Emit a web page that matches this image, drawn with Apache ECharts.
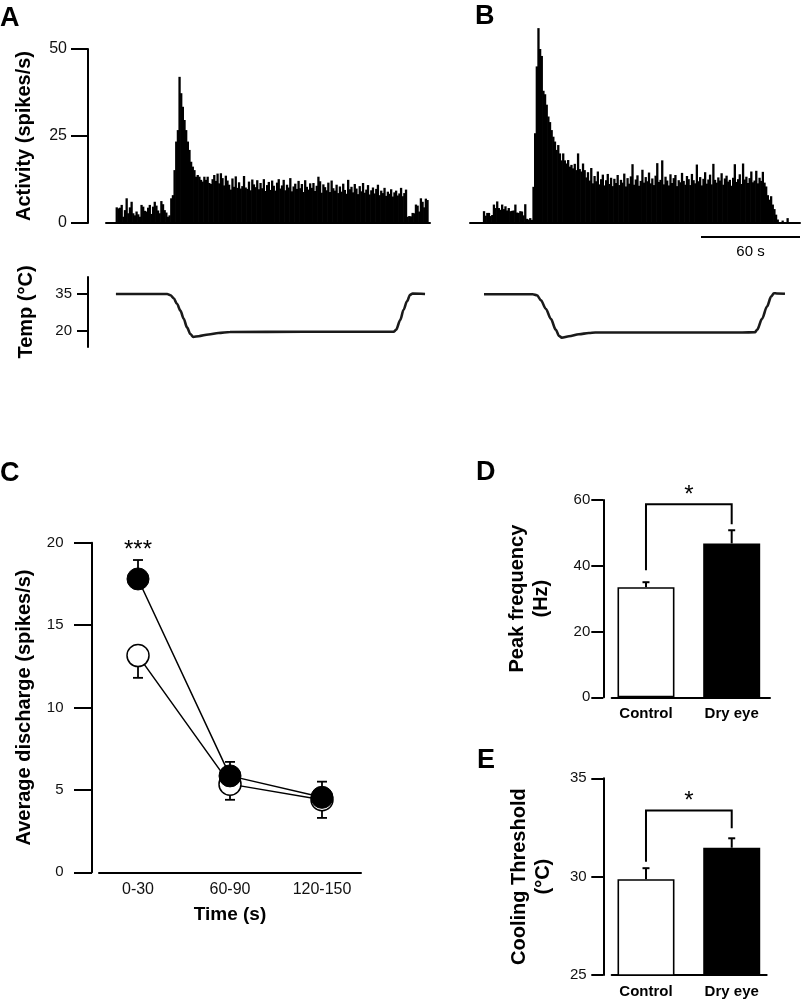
<!DOCTYPE html>
<html><head><meta charset="utf-8">
<script src="https://cdn.jsdelivr.net/npm/echarts@6/dist/echarts.min.js"></script>
<style>html,body{margin:0;padding:0;background:#fff}#c{width:801px;height:1003px}</style>
</head><body><div id="c"></div>
<script>
// ---------- DATA ----------
// Panel A: activity histogram, 1-s bins (spikes/s)
const histA = [0,0,0,0,0,0,
 4.5,4.2,4.4,5.2,1.8,3.7,7.1,2.8,4.5,6.1,2.8,2.2,3.3,2.5,1.8,5.2,4.7,3.5,3.3,4.4,5.2,2.6,4.7,6.1,5.0,3.6,2.8,6.3,5.4,3.7,3.0,1.8,2.2,7.1,8.0,
 15.2,23.4,26.7,42.0,37.3,33.4,29.6,26.7,23.4,21.0,17.6,16.2,15.2,13.3,13.8,13.3,12.4,11.9,13.3,12.4,13.3,11.5,
 11.2,12.6,13.8,12.1,14.2,11.4,14.3,12.9,10.8,13.6,12.2,11.0,9.6,12.8,10.4,13.4,10.1,11.7,9.9,10.6,
 13.5,10.2,9.8,11.9,9.4,12.5,11.1,10.3,12.3,9.7,11.5,10.0,12.6,9.2,10.9,11.8,9.5,12.2,10.7,9.3,
 11.6,12.6,9.9,10.8,12.4,9.4,11.0,10.2,12.9,9.1,10.5,11.3,9.8,12.1,10.0,11.2,8.9,12.3,10.4,9.6,
 11.4,10.1,11.5,9.2,10.7,13.3,12.0,8.7,11.1,10.3,9.4,11.6,8.9,12.2,10.0,9.3,11.0,8.6,10.5,9.0,
 11.3,9.5,8.4,12.4,9.7,10.4,8.8,11.2,9.9,8.3,10.6,9.1,11.5,8.7,9.6,10.9,8.2,9.4,10.2,8.5,
 9.8,11.0,8.0,9.3,8.6,10.1,7.8,9.0,8.4,9.7,7.6,8.8,9.3,7.9,8.5,10.1,7.7,8.6,9.6,
 1.8,2.0,1.9,2.9,2.8,5.3,5.0,3.3,7.1,6.1,4.5,7.0,6.6,
 0];
// Panel B: activity histogram, 1-s bins (spikes/s)
const histB = [0,0,0,0,0,0,0,0,
 3.4,2.1,2.9,2.9,2.0,2.3,5.3,4.3,6.2,4.3,3.8,5.3,4.0,4.8,3.6,4.3,3.4,3.5,3.6,5.3,3.0,2.9,3.4,3.3,2.2,5.4,1.2,1.0,1.4,0.9,
 10.4,25.8,45.0,56.0,50.0,48.0,38.0,37.0,34.0,30.6,29.0,26.7,24.8,23.4,21.0,22.4,20.0,18.0,20.0,18.0,17.1,18.1,16.2,16.7,15.7,17.0,15.2,20.0,15.5,14.8,17.1,
 15.2,13.1,14.6,12.2,15.8,11.4,13.5,12.0,14.8,11.1,12.6,13.9,10.8,12.3,14.1,11.2,13.0,10.6,12.7,11.5,
 13.8,10.9,12.4,11.6,14.2,10.5,12.9,11.3,13.4,16.9,11.0,12.5,13.7,10.7,12.1,15.3,11.6,13.2,12.0,14.5,
 11.4,12.8,10.9,13.6,17.2,11.8,12.4,18.0,11.1,13.3,12.2,10.8,14.0,11.5,12.9,13.8,10.6,12.3,11.7,14.4,
 12.1,11.0,13.5,12.6,10.9,14.1,12.3,11.4,16.8,12.0,13.2,10.8,12.7,14.6,11.3,12.5,13.9,11.1,17.0,12.4,
 11.6,13.1,12.2,14.3,11.0,12.8,13.6,11.9,12.4,10.7,13.0,16.9,11.8,12.6,14.0,11.2,17.1,12.5,13.3,11.5,
 12.9,14.8,11.7,12.2,15.0,11.4,13.0,12.1,14.7,11.6,
 10.5,8.0,6.7,7.7,5.3,4.0,2.4,1.0,0,0,0.7,0,0,1.4,0,0,0,0,0,0,0];
// Temperature traces [time s, °C]
const tempA = [[6,35.1],[37,35.1],[39,34.6],[41,33.3],[43,31],[45,28.3],[47,25],[49,21.5],[51,18.8],[52.8,17.6],[56,17.9],[62,18.6],[68,19.2],[75,19.6],[120,19.7],[174,19.7],[175.5,20.5],[178,24.5],[180,28.6],[182,32],[184,34.8],[185.5,35.3],[193,35.1]];
const tempB = [[8.5,35],[38,35],[40.6,34.6],[43,32.5],[46,29],[49,25],[52,20.5],[54,18],[55.6,17.3],[60,17.9],[66,18.7],[72,19.2],[76,19.4],[120,19.4],[165,19.4],[172.7,19.5],[174,20.5],[177,25],[180,30],[182.5,34],[184.2,35.4],[186,35.3],[190.9,35.2]];
const tempTicks = [20, 35];
const scaleBarSeconds = 60;
// Panel C
const timeCats = ['0-30', '60-90', '120-150'];
const controlMean = [13.15, 5.35, 4.4];
const controlErr = [1.35, 0.95, 1.1];
const dryMean = [17.8, 5.85, 4.55];
const dryErr = [1.15, 0.85, 0.95];
const sigC = ['***', '', ''];
// Panels D, E
const groupCats = ['Control', 'Dry eye'];
const peakMean = [33.5, 46.8];
const peakErr = [1.5, 4.0];
const peakBracket = [38.6, 58.7, 52.6];
const thrMean = [29.87, 31.47];
const thrErr = [0.56, 0.48];
const thrBracket = [30.76, 33.36, 32.46];

// ---------- CHART ----------
const FF = '"Liberation Sans", Arial, Helvetica, sans-serif';
const chart = echarts.init(document.getElementById('c'), null, {renderer: 'canvas'});
const AX = {color: '#000', width: 2};
const XLINE = {onZero: false, lineStyle: AX};
function yAx(o) {
  return Object.assign({
    type: 'value', splitLine: {show: false},
    axisLine: {show: true, onZero: false, lineStyle: AX},
    axisTick: {show: true, length: 12, lineStyle: AX},
    nameLocation: 'middle', nameRotate: 90,
    nameTextStyle: {fontFamily: FF, fontWeight: 'bold', fontSize: 20, color: '#000', lineHeight: 24}
  }, o);
}
function lab(size, margin, extra) {
  return Object.assign({fontFamily: FF, fontSize: size, color: '#111', margin: margin}, extra || {});
}
function errBar(dir, capW, lw) {
  return function (params, api) {
    const x = api.value(0), m = api.value(1), e = api.value(2);
    const p0 = api.coord([x, m]), p1 = api.coord([x, m + dir * e]);
    const ch = [
      {type: 'line', shape: {x1: p0[0], y1: p0[1], x2: p1[0], y2: p1[1]}, style: {stroke: '#000', lineWidth: lw}},
      {type: 'line', shape: {x1: p1[0] - capW / 2, y1: p1[1], x2: p1[0] + capW / 2, y2: p1[1]}, style: {stroke: '#000', lineWidth: lw}}
    ];
    const s = params.seriesName === 'dryErr' ? sigC[params.dataIndex] : '';
    if (s) ch.push({type: 'text', x: p1[0], y: p1[1] - 10, style: {text: s, font: '24px ' + FF, fill: '#000', align: 'center', verticalAlign: 'middle'}});
    return {type: 'group', children: ch};
  };
}
function bracket(params, api) {
  const l = api.value(2), t = api.value(3), r = api.value(4);
  const a = api.coord([api.value(0), l]), b = api.coord([api.value(0), t]);
  const c = api.coord([api.value(1), t]), d = api.coord([api.value(1), r]);
  return {type: 'group', children: [
    {type: 'polyline', shape: {points: [a, b, c, d]}, style: {stroke: '#000', lineWidth: 2, fill: null}},
    {type: 'text', x: (b[0] + c[0]) / 2, y: b[1] - 9, style: {text: '*', font: '24px ' + FF, fill: '#000', align: 'center', verticalAlign: 'middle'}}
  ]};
}
const binsA = histA.map((_, i) => i), binsB = histB.map((_, i) => i);
const HIST_STYLE = {color: '#000'};

const option = {
  animation: false,
  backgroundColor: '#fff',
  grid: [
    {left: 106, top: 49, width: 324, height: 174},
    {left: 470, top: 14.2, width: 330, height: 208.8},
    {left: 106, top: 277, width: 324, height: 70},
    {left: 470, top: 277, width: 330, height: 70},
    {left: 99, top: 542.7, width: 262, height: 329.6},
    {left: 611.7, top: 500, width: 158.3, height: 197.3},
    {left: 611.7, top: 778.3, width: 155, height: 196.7}
  ],
  xAxis: [
    {gridIndex: 0, type: 'category', data: binsA, boundaryGap: true, axisLine: XLINE, axisTick: {show: false}, axisLabel: {show: false}},
    {gridIndex: 1, type: 'category', data: binsB, boundaryGap: true, axisLine: XLINE, axisTick: {show: false}, axisLabel: {show: false}},
    {gridIndex: 2, type: 'value', min: 0, max: histA.length, show: false},
    {gridIndex: 3, type: 'value', min: 0, max: histB.length, show: false},
    {gridIndex: 4, type: 'value', min: -0.424, max: 2.424, splitLine: {show: false}, axisLine: XLINE, axisTick: {show: false},
     axisLabel: lab(16, 9, {customValues: [0, 1, 2], formatter: v => timeCats[Math.round(v)]}),
     name: 'Time (s)', nameLocation: 'middle', nameGap: 33, nameTextStyle: {fontFamily: FF, fontWeight: 'bold', fontSize: 19, color: '#000'}},
    {gridIndex: 5, type: 'value', min: -0.4, max: 1.447, splitLine: {show: false}, axisLine: XLINE, axisTick: {show: false},
     axisLabel: lab(15, 9, {fontWeight: 'bold', color: '#000', customValues: [0, 1], formatter: v => groupCats[Math.round(v)]})},
    {gridIndex: 6, type: 'value', min: -0.4, max: 1.408, splitLine: {show: false}, axisLine: XLINE, axisTick: {show: false},
     axisLabel: lab(15, 9, {fontWeight: 'bold', color: '#000', customValues: [0, 1], formatter: v => groupCats[Math.round(v)]})}
  ],
  yAxis: [
    yAx({gridIndex: 0, min: 0, max: 50, interval: 25, offset: 18, axisTick: {show: true, length: 17, lineStyle: AX},
         axisLabel: lab(16, 21), name: 'Activity (spikes/s)', nameGap: 52}),
    {gridIndex: 1, type: 'value', min: 0, max: 60, show: false},
    yAx({gridIndex: 2, min: 13.5, max: 42, offset: 18, axisTick: {show: true, length: 11, lineStyle: AX, customValues: tempTicks},
         axisLabel: lab(15, 16, {customValues: tempTicks}), name: 'Temp (°C)', nameGap: 50}),
    {gridIndex: 3, type: 'value', min: 13.5, max: 42, show: false},
    yAx({gridIndex: 4, min: 0, max: 20, interval: 5, offset: 7, axisTick: {show: true, length: 18, lineStyle: AX},
         axisLabel: lab(15, 28.5), name: 'Average discharge (spikes/s)', nameGap: 56}),
    yAx({gridIndex: 5, min: 0, max: 60, interval: 20, offset: 8.4, axisLabel: lab(15, 13), name: 'Peak frequency\n(Hz)', nameGap: 50}),
    yAx({gridIndex: 6, min: 25, max: 35, interval: 5, offset: 8.4, axisLabel: lab(15, 16.7), name: 'Cooling Threshold\n(°C)', nameGap: 48})
  ],
  series: [
    {type: 'bar', xAxisIndex: 0, yAxisIndex: 0, data: histA, barWidth: '140%', itemStyle: HIST_STYLE},
    {type: 'bar', xAxisIndex: 1, yAxisIndex: 1, data: histB, barWidth: '140%', itemStyle: HIST_STYLE},
    {type: 'line', xAxisIndex: 2, yAxisIndex: 2, data: tempA, showSymbol: false, smooth: 0.3, smoothMonotone: 'x', lineStyle: {color: '#1a1a1a', width: 2.6}},
    {type: 'line', xAxisIndex: 3, yAxisIndex: 3, data: tempB, showSymbol: false, smooth: 0.3, smoothMonotone: 'x', lineStyle: {color: '#1a1a1a', width: 2.6}},
    // Panel C
    {type: 'custom', name: 'ctrlErr', xAxisIndex: 4, yAxisIndex: 4, z: 1, renderItem: errBar(-1, 10, 1.8), data: controlMean.map((m, i) => [i, m, controlErr[i]])},
    {type: 'custom', name: 'dryErr', xAxisIndex: 4, yAxisIndex: 4, z: 1, renderItem: errBar(1, 10, 1.8), data: dryMean.map((m, i) => [i, m, dryErr[i]])},
    {type: 'line', xAxisIndex: 4, yAxisIndex: 4, z: 3, data: controlMean.map((m, i) => [i, m]), symbol: 'circle', symbolSize: 22,
     itemStyle: {color: '#fff', borderColor: '#000', borderWidth: 1.5}, lineStyle: {color: '#000', width: 1.5}},
    {type: 'line', xAxisIndex: 4, yAxisIndex: 4, z: 4, data: dryMean.map((m, i) => [i, m]), symbol: 'circle', symbolSize: 22,
     itemStyle: {color: '#000', borderColor: '#000', borderWidth: 1}, lineStyle: {color: '#000', width: 1.5}},
    // Panel D
    {type: 'bar', xAxisIndex: 5, yAxisIndex: 5, barWidth: 57, z: 2,
     data: peakMean.map((v, i) => ({value: [i, v], itemStyle: i === 0 ? {color: '#fff', borderColor: '#000', borderWidth: 1.6} : {color: '#000'}}))},
    {type: 'custom', xAxisIndex: 5, yAxisIndex: 5, z: 3, renderItem: errBar(1, 7, 2), data: peakMean.map((m, i) => [i, m, peakErr[i]])},
    {type: 'custom', xAxisIndex: 5, yAxisIndex: 5, z: 3, renderItem: bracket, data: [[0, 1].concat(peakBracket)]},
    // Panel E
    {type: 'bar', xAxisIndex: 6, yAxisIndex: 6, barWidth: 57, z: 2,
     data: thrMean.map((v, i) => ({value: [i, v], itemStyle: i === 0 ? {color: '#fff', borderColor: '#000', borderWidth: 1.6} : {color: '#000'}}))},
    {type: 'custom', xAxisIndex: 6, yAxisIndex: 6, z: 3, renderItem: errBar(1, 7, 2), data: thrMean.map((m, i) => [i, m, thrErr[i]])},
    {type: 'custom', xAxisIndex: 6, yAxisIndex: 6, z: 3, renderItem: bracket, data: [[0, 1].concat(thrBracket)]}
  ]
};
chart.setOption(option);

// Panel letters and time scale bar (scale bar position from the B time axis)
const sbR = chart.convertToPixel({xAxisIndex: 3}, histB.length);
const sbL = chart.convertToPixel({xAxisIndex: 3}, histB.length - scaleBarSeconds);
const letter = (t, x, y) => ({type: 'text', x: x, y: y, style: {text: t, font: 'bold 27px ' + FF, fill: '#000', align: 'left', verticalAlign: 'middle'}});
chart.setOption({graphic: [
  letter('A', 0, 19), letter('B', 475, 17), letter('C', 0, 474), letter('D', 476, 473), letter('E', 477, 761),
  {type: 'line', shape: {x1: sbL, y1: 237, x2: sbR, y2: 237}, style: {stroke: '#000', lineWidth: 2}},
  {type: 'text', x: (sbL + sbR) / 2, y: 252, style: {text: scaleBarSeconds + ' s', font: '15px ' + FF, fill: '#000', align: 'center', verticalAlign: 'middle'}}
]});
</script>
</body></html>
